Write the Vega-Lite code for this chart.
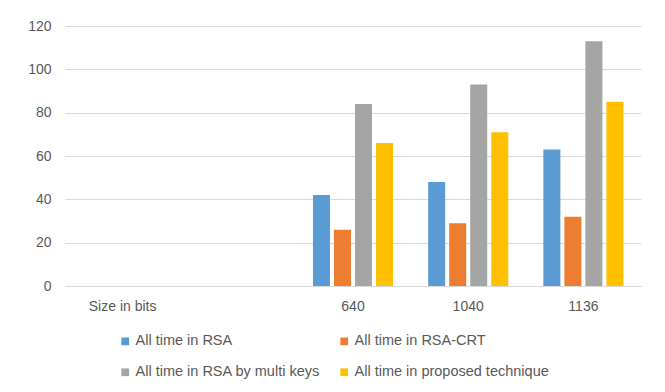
{
  "$schema": "https://vega.github.io/schema/vega-lite/v6.json",
  "autosize": {"type": "none"},
  "width": 576,
  "height": 260,
  "padding": {"left": 65, "top": 26, "right": 24, "bottom": 106},
  "background": "white",
  "config": {
    "view": {"stroke": null},
    "font": "Liberation Sans",
    "axis": {"labelFont": "Liberation Sans", "labelColor": "#595959", "labelFontSize": 14},
    "legend": {"labelFont": "Liberation Sans", "labelColor": "#595959", "labelFontSize": 14.5}
  },
  "data": {
    "values": [
      {"size": "640", "series": "All time in RSA", "time": 42},
      {"size": "640", "series": "All time in RSA-CRT", "time": 26},
      {"size": "640", "series": "All time in RSA by multi keys", "time": 84},
      {"size": "640", "series": "All time in proposed technique", "time": 66},
      {"size": "1040", "series": "All time in RSA", "time": 48},
      {"size": "1040", "series": "All time in RSA-CRT", "time": 29},
      {"size": "1040", "series": "All time in RSA by multi keys", "time": 93},
      {"size": "1040", "series": "All time in proposed technique", "time": 71},
      {"size": "1136", "series": "All time in RSA", "time": 63},
      {"size": "1136", "series": "All time in RSA-CRT", "time": 32},
      {"size": "1136", "series": "All time in RSA by multi keys", "time": 113},
      {"size": "1136", "series": "All time in proposed technique", "time": 85}
    ]
  },
  "mark": {"type": "bar"},
  "encoding": {
    "x": {
      "field": "size",
      "type": "nominal",
      "scale": {"domain": ["Size in bits", " ", "640", "1040", "1136"], "paddingInner": 0.27, "paddingOuter": 0.135},
      "axis": {
        "title": null,
        "labelAngle": 0,
        "ticks": false,
        "domain": true,
        "domainColor": "#d9d9d9",
        "labelPadding": 13
      }
    },
    "xOffset": {
      "field": "series",
      "type": "nominal",
      "sort": ["All time in RSA", "All time in RSA-CRT", "All time in RSA by multi keys", "All time in proposed technique"],
      "scale": {"paddingInner": 0.19, "paddingOuter": 0.095}
    },
    "y": {
      "field": "time",
      "type": "quantitative",
      "scale": {"domain": [0, 120]},
      "axis": {
        "title": null,
        "values": [0, 20, 40, 60, 80, 100, 120],
        "ticks": false,
        "domain": false,
        "gridColor": "#d9d9d9",
        "labelPadding": 14
      }
    },
    "color": {
      "field": "series",
      "type": "nominal",
      "sort": ["All time in RSA", "All time in RSA-CRT", "All time in RSA by multi keys", "All time in proposed technique"],
      "scale": {
        "domain": ["All time in RSA", "All time in RSA-CRT", "All time in RSA by multi keys", "All time in proposed technique"],
        "range": ["#5B9BD5", "#ED7D31", "#A5A5A5", "#FFC000"]
      },
      "legend": {
        "title": null,
        "orient": "none",
        "legendX": 53,
        "legendY": 308,
        "direction": "horizontal",
        "columns": 2,
        "symbolType": "square",
        "symbolSize": 60,
        "symbolStrokeWidth": 0,
        "labelOffset": 3,
        "labelLimit": 0,
        "columnPadding": 16,
        "rowPadding": 16
      }
    }
  }
}
